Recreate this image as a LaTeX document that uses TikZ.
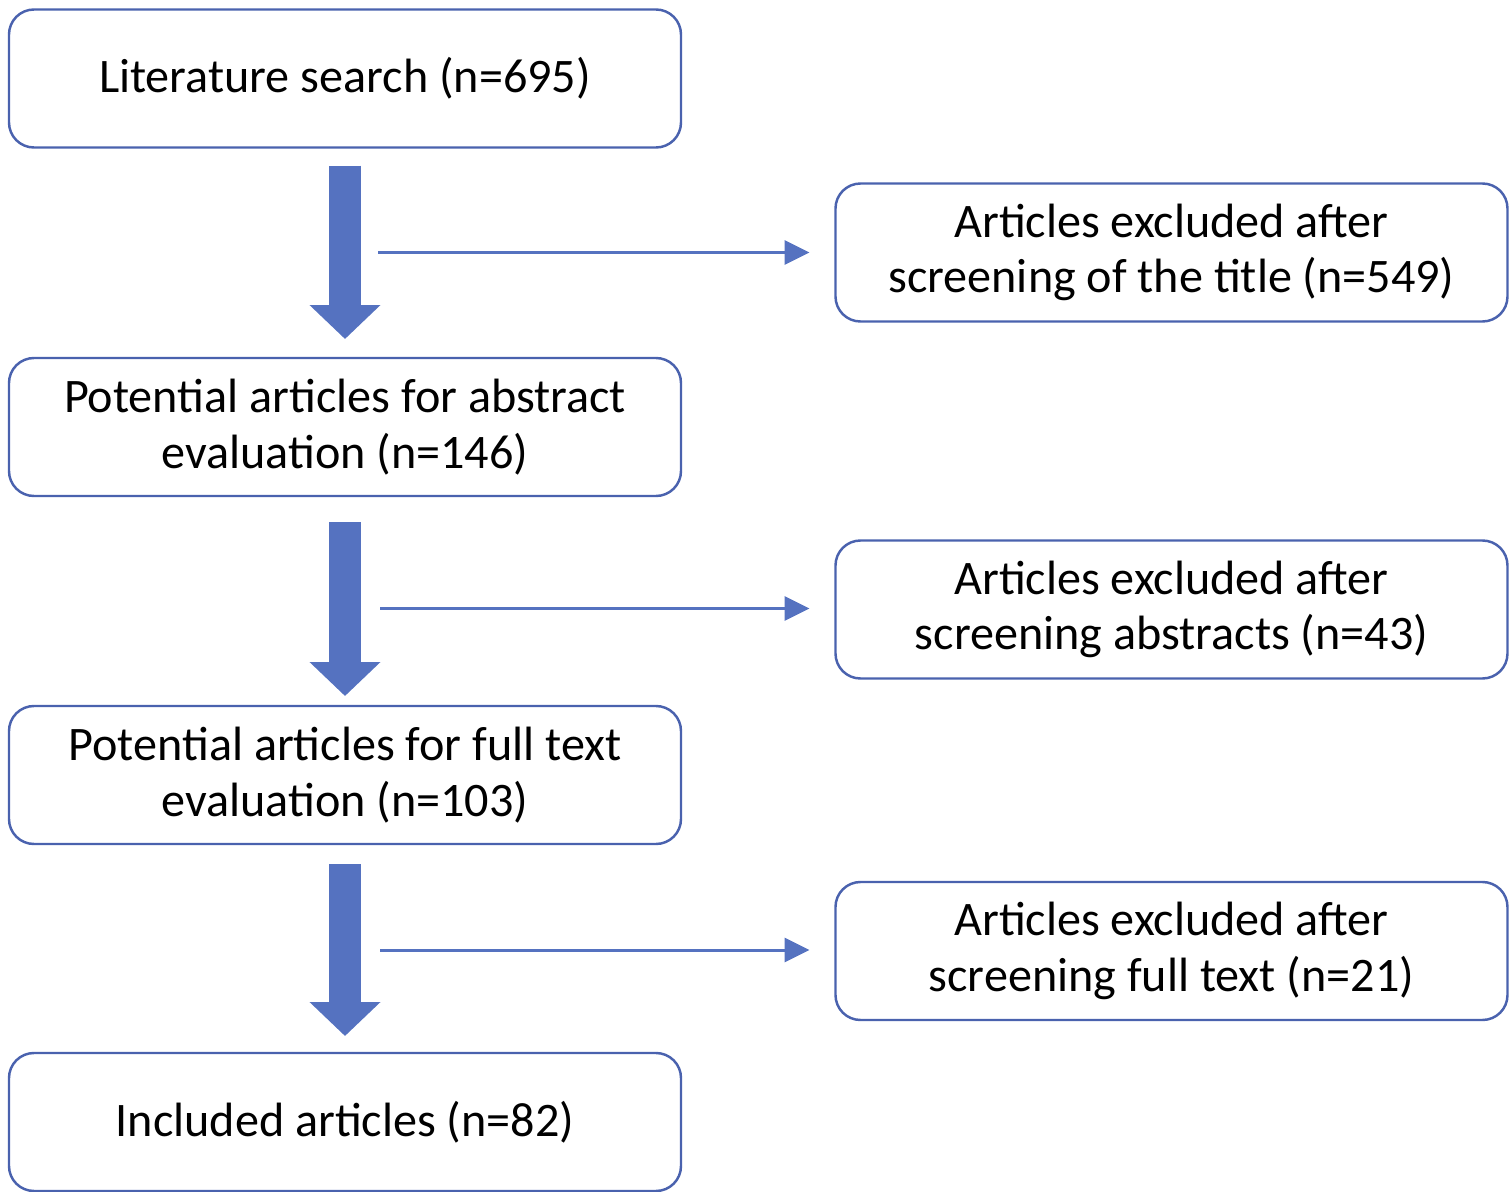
\documentclass[tikz,border=0pt]{standalone}
\usepackage{fontspec}
\setmainfont{Carlito}
\usetikzlibrary{arrows.meta}
\definecolor{boxblue}{HTML}{4A62AE}
\definecolor{arrowblue}{HTML}{5572C0}
\begin{document}
\begin{tikzpicture}[inner sep=0pt,outer sep=0pt,
stepbox/.style={draw=boxblue,rectangle,rounded corners=0.25cm,line width=0.7pt,minimum width=6.72cm,minimum height=1.38cm,align=center,font=\fontsize{13.7}{15.8}\selectfont},
bigarrow/.style={draw=arrowblue,line width=0.32cm,-{Triangle[width=0.69cm,length=0.34cm]}},
smallarrow/.style={draw=arrowblue,line width=0.85pt,-{Triangle[width=0.24cm,length=0.25cm]},shorten >=0.26cm}]
\useasboundingbox (0,0) rectangle (15.09,-11.92);

\draw (3.45,-0.785) node[stepbox] (lit) {Literature search (n=695)};
\draw (3.45,-4.27) node[stepbox] (abs) {Potential articles for abstract\\evaluation (n=146)};
\draw (3.45,-7.75) node[stepbox] (full) {Potential articles for full text\\evaluation (n=103)};
\draw (3.45,-11.22) node[stepbox] (inc) {Included articles (n=82)};

\draw (11.715,-2.525) node[stepbox] (extit) {Articles excluded after\\screening of the title (n=549)};
\draw (11.715,-6.095) node[stepbox] (exabs) {Articles excluded after\\screening abstracts (n=43)};
\draw (11.715,-9.51) node[stepbox] (exfull) {Articles excluded after\\screening full text (n=21)};

\draw[bigarrow,shorten <=0.18cm,shorten >=0.19cm] (lit) -- (abs);
\draw[bigarrow,shorten <=0.26cm,shorten >=0.10cm] (abs) -- (full);
\draw[bigarrow,shorten <=0.20cm,shorten >=0.17cm] (full) -- (inc);

\coordinate (s1) at (3.78,-2.525);
\coordinate (s2) at (3.80,-6.085);
\coordinate (s3) at (3.80,-9.50);
\draw[smallarrow] (s1) -- (extit.west);
\draw[smallarrow] (s2) -- (exabs.west |- s2);
\draw[smallarrow] (s3) -- (exfull.west |- s3);
\end{tikzpicture}
\end{document}
